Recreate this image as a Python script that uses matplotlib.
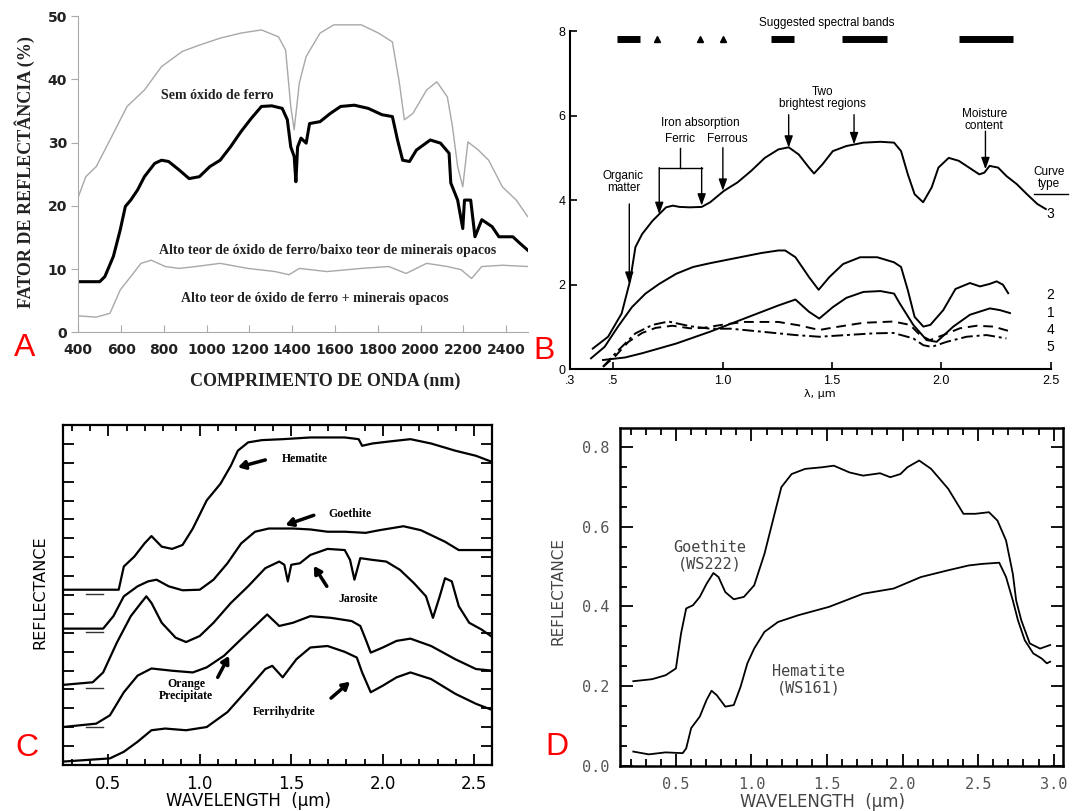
import numpy as np
import matplotlib
matplotlib.use('Agg')
import matplotlib.pyplot as plt
from matplotlib.ticker import MultipleLocator

# =============================================================================
# DATOS
# =============================================================================

# --- Painel A: fator de reflectância (%) vs comprimento de onda (nm)
a_wl_sem = [400, 435, 484, 548, 628, 709, 789, 886, 966, 1063, 1160, 1256, 1336, 1369, 1393,
            1409, 1433, 1465, 1530, 1594, 1723, 1803, 1868, 1900, 1924, 1964, 2028, 2076,
            2125, 2149, 2173, 2197, 2221, 2270, 2318, 2382, 2447, 2500]
a_sem = [21.4, 24.6, 26.2, 30.4, 35.7, 38.3, 42.0, 44.4, 45.4, 46.5, 47.3, 47.8, 46.7, 44.6, 35.7,
         32.0, 39.4, 43.6, 47.3, 48.6, 48.6, 47.3, 45.9, 39.6, 33.6, 34.6, 38.3, 39.6,
         37.2, 32.5, 26.2, 23.0, 30.1, 28.8, 27.2, 23.0, 20.9, 18.3]

a_wl_baixo = [400, 500, 524, 564, 596, 620, 645, 677, 709, 757, 789, 822, 870, 918, 966, 1015,
              1063, 1111, 1160, 1208, 1256, 1304, 1353, 1377, 1393, 1409, 1417, 1425, 1441,
              1465, 1481, 1530, 1578, 1626, 1690, 1755, 1819, 1868, 1892, 1916, 1948, 1980,
              2045, 2093, 2133, 2141, 2173, 2197, 2205, 2234, 2254, 2286, 2334, 2366, 2431,
              2463, 2500]
a_baixo = [8.0, 8.0, 8.8, 12.0, 16.2, 19.9, 20.9, 22.5, 24.6, 26.7, 27.2, 27.0, 25.7, 24.3, 24.6,
           26.2, 27.2, 29.3, 31.7, 33.8, 35.7, 35.8, 35.4, 33.6, 29.3, 27.8, 23.8, 29.3, 30.7,
           29.9, 33.0, 33.3, 34.6, 35.7, 35.9, 35.4, 34.4, 34.1, 30.4, 27.2, 27.0, 28.8,
           30.4, 29.9, 28.3, 23.6, 20.9, 16.4, 20.9, 20.9, 15.1, 17.8, 16.7, 15.1, 15.1,
           14.1, 13.0]

a_wl_opacos = [400, 484, 548, 596, 645, 693, 741, 806, 870, 950, 1063, 1192, 1320, 1385, 1433,
               1562, 1723, 1851, 1932, 2028, 2125, 2189, 2238, 2286, 2382, 2500]
a_opacos = [2.6, 2.4, 3.0, 6.7, 8.8, 10.9, 11.4, 10.4, 10.1, 10.4, 10.9, 10.1, 9.6, 9.1, 10.1,
            9.6, 10.1, 10.4, 9.3, 10.9, 10.4, 9.9, 8.5, 10.4, 10.6, 10.4]

# --- Painel B: curvas tipo 1..5 (um)
b3_x = [0.406, 0.476, 0.538, 0.577, 0.601, 0.632, 0.679, 0.710, 0.741, 0.772, 0.803, 0.850,
        0.904, 0.943, 1.006, 1.068, 1.130, 1.193, 1.255, 1.302, 1.348, 1.395, 1.418, 1.457,
        1.504, 1.566, 1.644, 1.722, 1.784, 1.816, 1.847, 1.878, 1.917, 1.956, 1.987, 2.034,
        2.080, 2.127, 2.174, 2.197, 2.221, 2.260, 2.298, 2.345, 2.392, 2.439, 2.478]
b3_y = [0.49, 0.77, 1.32, 2.10, 2.89, 3.20, 3.51, 3.67, 3.83, 3.87, 3.84, 3.83,
        3.84, 3.95, 4.22, 4.42, 4.69, 5.00, 5.20, 5.25, 5.08, 4.77, 4.63, 4.85,
        5.16, 5.28, 5.36, 5.38, 5.36, 5.16, 4.61, 4.14, 3.95, 4.30, 4.77, 5.00,
        4.93, 4.77, 4.61, 4.65, 4.81, 4.77, 4.57, 4.38, 4.14, 3.91, 3.79]

b2_x = [0.398, 0.46, 0.52, 0.585, 0.647, 0.71, 0.788, 0.865, 0.943, 1.021, 1.099, 1.177,
        1.255, 1.286, 1.333, 1.395, 1.439, 1.488, 1.551, 1.629, 1.707, 1.784, 1.816, 1.847,
        1.878, 1.918, 1.95, 2.009, 2.065, 2.131, 2.177, 2.222, 2.253, 2.282, 2.306]
b2_y = [0.26, 0.53, 1.00, 1.47, 1.79, 2.02, 2.26, 2.42, 2.51, 2.59, 2.67, 2.75,
        2.81, 2.81, 2.65, 2.18, 1.88, 2.18, 2.49, 2.65, 2.65, 2.53, 2.42, 1.87,
        1.24, 1.01, 1.05, 1.40, 1.90, 2.04, 1.96, 2.02, 2.08, 2.00, 1.80]

b1_x = [0.453, 0.554, 0.632, 0.788, 0.943, 1.099, 1.255, 1.333, 1.395, 1.442, 1.504, 1.566,
        1.644, 1.722, 1.784, 1.811, 1.872, 1.933, 1.979, 2.055, 2.131, 2.222, 2.268, 2.314]
b1_y = [0.22, 0.28, 0.38, 0.61, 0.89, 1.20, 1.51, 1.65, 1.36, 1.20, 1.47, 1.69,
        1.83, 1.85, 1.79, 1.55, 1.05, 0.69, 0.65, 1.01, 1.29, 1.44, 1.40, 1.33]

b4_x = [0.453, 0.507, 0.569, 0.632, 0.694, 0.77, 0.85, 0.912, 1.006, 1.099, 1.255, 1.348,
        1.442, 1.52, 1.644, 1.781, 1.857, 1.903, 1.948, 2.009, 2.085, 2.162, 2.238, 2.306]
b4_y = [0.06, 0.30, 0.65, 0.86, 0.98, 1.03, 0.97, 0.98, 1.06, 1.12, 1.12, 1.04,
        0.93, 1.00, 1.10, 1.13, 1.05, 0.81, 0.69, 0.81, 0.97, 1.03, 1.01, 0.91]

b5_x = [0.453, 0.523, 0.601, 0.679, 0.752, 0.85, 0.943, 1.037, 1.177, 1.333, 1.442, 1.566,
        1.691, 1.781, 1.872, 1.918, 1.956, 2.025, 2.116, 2.207, 2.298]
b5_y = [0.06, 0.45, 0.85, 1.05, 1.13, 1.02, 0.96, 0.96, 0.89, 0.81, 0.77, 0.81,
        0.85, 0.86, 0.73, 0.57, 0.53, 0.65, 0.77, 0.81, 0.73]

# bandas espectrais sugeridas
b_banda_ini = [0.515, 1.221, 1.548, 2.080]
b_banda_fim = [0.624, 1.325, 1.750, 2.330]
b_banda_pts = [0.702, 0.897, 1.001]

b_tipo_lbl = ['3', '2', '1', '4', '5']
b_tipo_y = [3.67, 1.75, 1.32, 0.93, 0.53]

# --- Painel C: espectros deslocados (unidades arbitrárias)
c_hem_x = [0.251, 0.557, 0.585, 0.642, 0.698, 0.736, 0.792, 0.849, 0.906, 0.962, 1.038, 1.113,
           1.17, 1.208, 1.264, 1.34, 1.453, 1.604, 1.792, 1.868, 1.887, 1.943, 2.038, 2.151,
           2.264, 2.396, 2.509, 2.604]
c_hem_y = [9.28, 9.28, 10.51, 11.03, 11.73, 12.12, 11.56, 11.44, 11.65, 12.52, 14.01, 14.89,
           15.85, 16.64, 17.08, 17.20, 17.25, 17.34, 17.34, 17.25, 16.90, 17.02, 17.13, 17.25,
           17.02, 16.64, 16.37, 16.02]

c_goe_x = [0.251, 0.472, 0.528, 0.585, 0.66, 0.717, 0.764, 0.83, 0.906, 1.0, 1.075, 1.151,
           1.226, 1.302, 1.377, 1.509, 1.604, 1.698, 1.792, 1.906, 1.981, 2.113, 2.208, 2.34,
           2.415, 2.604]
c_goe_y = [7.22, 7.22, 7.88, 8.93, 9.46, 9.72, 9.81, 9.46, 9.25, 9.28, 9.81, 10.68,
           11.73, 12.35, 12.52, 12.52, 12.47, 12.35, 12.35, 12.29, 12.43, 12.64, 12.43, 11.82,
           11.38, 11.38]

c_jar_x = [0.251, 0.415, 0.472, 0.547, 0.623, 0.679, 0.708, 0.736, 0.792, 0.868, 0.925, 1.0,
           1.075, 1.17, 1.264, 1.358, 1.434, 1.462, 1.481, 1.5, 1.547, 1.604, 1.698, 1.792,
           1.821, 1.845, 1.877, 1.943, 2.019, 2.094, 2.17, 2.236, 2.274, 2.311, 2.34, 2.377,
           2.415, 2.472, 2.538, 2.604]
c_jar_y = [4.24, 4.38, 4.90, 6.48, 7.88, 8.58, 8.93, 8.58, 7.53, 6.74, 6.51, 6.83,
           7.53, 8.58, 9.46, 10.42, 10.77, 10.60, 9.72, 10.60, 10.68, 11.12, 11.44, 11.38,
           10.86, 9.81, 10.95, 10.86, 10.77, 10.33, 9.63, 8.93, 7.79, 8.93, 9.89, 9.72,
           8.41, 7.53, 7.18, 6.74]

c_ora_x = [0.251, 0.434, 0.509, 0.585, 0.66, 0.736, 0.849, 0.962, 1.038, 1.132, 1.226, 1.302,
           1.368, 1.406, 1.434, 1.509, 1.604, 1.717, 1.83, 1.877, 1.906, 1.934, 2.0, 2.075,
           2.151, 2.264, 2.396, 2.509, 2.604]
c_ora_y = [2.01, 2.19, 2.63, 3.85, 4.73, 5.11, 4.99, 4.90, 5.17, 5.78, 6.66, 7.36,
           7.97, 7.62, 7.36, 7.53, 7.88, 7.79, 7.62, 7.36, 6.66, 5.95, 6.22, 6.57,
           6.69, 6.30, 5.60, 5.08, 4.99]

c_fer_x = [0.251, 0.509, 0.585, 0.66, 0.736, 0.811, 0.925, 1.038, 1.151, 1.264, 1.358, 1.396,
           1.453, 1.528, 1.604, 1.698, 1.792, 1.858, 1.887, 1.934, 2.0, 2.075, 2.151, 2.264,
           2.396, 2.509, 2.604]
c_fer_y = [0.18, 0.35, 0.70, 1.23, 1.84, 1.93, 1.84, 2.01, 2.80, 4.03, 5.08, 5.25,
           4.64, 5.60, 6.22, 6.30, 5.99, 5.69, 4.90, 3.85, 4.20, 4.64, 4.90, 4.55,
           3.77, 3.24, 2.89]

# marcas de zero de cada curva deslocada
c_zero_y = [9.05, 7.06, 4.06, 2.01]

# --- Painel D: reflectância de goethita e hematita
d_goe_x = [0.218, 0.342, 0.432, 0.5, 0.534, 0.568, 0.613, 0.658, 0.703, 0.748, 0.782, 0.827,
           0.883, 0.95, 1.018, 1.086, 1.153, 1.198, 1.266, 1.356, 1.468, 1.545, 1.649, 1.739,
           1.851, 1.919, 1.986, 2.032, 2.11, 2.189, 2.302, 2.403, 2.482, 2.572, 2.628, 2.685,
           2.73, 2.752, 2.786, 2.842, 2.91, 2.977]
d_goe_y = [0.212, 0.217, 0.227, 0.244, 0.332, 0.395, 0.403, 0.424, 0.457, 0.484, 0.474, 0.436,
           0.418, 0.424, 0.453, 0.532, 0.633, 0.700, 0.733, 0.746, 0.750, 0.754, 0.737, 0.729,
           0.735, 0.725, 0.733, 0.750, 0.767, 0.746, 0.696, 0.633, 0.633, 0.637, 0.616, 0.566,
           0.482, 0.415, 0.365, 0.307, 0.294, 0.303]

d_hem_x = [0.218, 0.32, 0.432, 0.545, 0.568, 0.601, 0.658, 0.703, 0.736, 0.77, 0.827, 0.883,
           0.928, 0.973, 1.018, 1.086, 1.176, 1.311, 1.514, 1.739, 1.941, 2.122, 2.302, 2.437,
           2.527, 2.64, 2.685, 2.73, 2.764, 2.809, 2.865, 2.921, 2.955, 2.977]
d_hem_y = [0.035, 0.028, 0.033, 0.031, 0.043, 0.094, 0.123, 0.165, 0.188, 0.177, 0.148, 0.152,
           0.198, 0.257, 0.294, 0.336, 0.361, 0.378, 0.399, 0.432, 0.445, 0.474, 0.491, 0.503,
           0.507, 0.510, 0.474, 0.415, 0.365, 0.315, 0.282, 0.269, 0.257, 0.261]

# =============================================================================
# FIGURA
# =============================================================================
W, H = 1074, 811
fig = plt.figure(figsize=(W / 100, H / 100), dpi=100)
fig.patch.set_facecolor('white')

SERIF = 'Liberation Serif'
SANS = 'Liberation Sans'


def caja(x0, y0, x1, y1):
    """rectángulo en píxeles (arriba-izquierda, abajo-derecha) -> coords de figura"""
    return [x0 / W, 1 - y1 / H, (x1 - x0) / W, (y1 - y0) / H]


def ftext(px, py, s, **kw):
    fig.text(px / W, 1 - py / H, s, ha='center', va='center', **kw)


def flecha(ax, tip, tail, lw=1.0, ms=10, hw=0.25, hl=0.7):
    ax.annotate('', xy=tip, xytext=tail,
                arrowprops=dict(arrowstyle=f'-|>,head_length={hl},head_width={hw}',
                                color='black', lw=lw, shrinkA=0, shrinkB=0,
                                mutation_scale=ms))


# ---------------------------------------------------------------- Painel A
axA = fig.add_axes(caja(78.3, 16, 527.6, 332.3))
axA.plot(a_wl_sem, a_sem, color='#a8a8a8', lw=1.0)
axA.plot(a_wl_opacos, a_opacos, color='#a8a8a8', lw=1.0)
axA.plot(a_wl_baixo, a_baixo, color='black', lw=2.2)
axA.set_xlim(400, 2500)
axA.set_ylim(0, 50)
for s in ['top', 'right']:
    axA.spines[s].set_visible(False)
for s in ['left', 'bottom']:
    axA.spines[s].set_color('#aaaaaa')
axA.set_xticks(range(400, 2401, 200))
axA.set_yticks(range(0, 51, 10))
axA.tick_params(axis='x', direction='in', length=5, color='#aaaaaa', pad=8,
                labelsize=10, labelcolor='#222222')
axA.tick_params(axis='y', direction='out', length=5, color='#aaaaaa', pad=3,
                labelsize=10, labelcolor='#222222')
for t in axA.get_xticklabels() + axA.get_yticklabels():
    t.set_fontweight('bold')

txtA = dict(family=SERIF, fontweight='bold', fontsize=10, color='#222222',
            ha='center', va='center')
axA.text(1048, 37.5, 'Sem óxido de ferro', **txtA)
axA.text(1563, 13.0, 'Alto teor de óxido de ferro/baixo teor de minerais opacos', **txtA)
axA.text(1506, 5.4, 'Alto teor de óxido de ferro + minerais opacos', **txtA)
ftext(25, 172, 'FATOR DE REFLECTÂNCIA (%)', rotation=90, family=SERIF,
      fontweight='bold', fontsize=13, color='#222222')
ftext(325, 381, 'COMPRIMENTO DE ONDA (nm)', family=SERIF, fontweight='bold',
      fontsize=13, color='#222222')

# ---------------------------------------------------------------- Painel B
axB = fig.add_axes(caja(569.6, 31, 1050.6, 369.3))
axB.plot(b3_x, b3_y, color='black', lw=1.4)
axB.plot(b2_x, b2_y, color='black', lw=1.4)
axB.plot(b1_x, b1_y, color='black', lw=1.4)
axB.plot(b4_x, b4_y, color='black', lw=1.4, ls=(0, (5, 3)))
axB.plot(b5_x, b5_y, color='black', lw=1.4, ls=(0, (6, 2, 1.5, 2)))
axB.set_xlim(0.3, 2.5)
axB.set_ylim(0, 8)
for s in ['top', 'right']:
    axB.spines[s].set_visible(False)
for s in ['left', 'bottom']:
    axB.spines[s].set_linewidth(1.5)
axB.set_xticks([0.3, 0.5, 1.0, 1.5, 2.0, 2.5])
axB.set_xticklabels(['.3', '.5', '1.0', '1.5', '2.0', '2.5'])
axB.set_yticks([0, 2, 4, 6, 8])
axB.tick_params(direction='in', length=5, width=1.2, labelsize=9)
axB.tick_params(axis='x', pad=4)
axB.tick_params(axis='y', pad=3)
for t in axB.get_xticklabels() + axB.get_yticklabels():
    t.set_family(SANS)
ftext(820, 394, 'λ, µm', fontsize=8, family='DejaVu Sans')

# bandas sugeridas
for ini, fim in zip(b_banda_ini, b_banda_fim):
    axB.plot([ini, fim], [7.8, 7.8], color='black', lw=5, solid_capstyle='butt')
axB.plot(b_banda_pts, [7.8] * len(b_banda_pts), ls='none', marker='^', ms=4, color='black')
axB.text(1.477, 8.19, 'Suggested spectral bands', ha='center', va='center',
         fontsize=8.5, family=SANS, clip_on=False)

txtB = dict(ha='center', va='center', fontsize=8.5, family=SANS, linespacing=1.0)
axB.text(0.546, 4.42, 'Organic\nmatter', **txtB)
flecha(axB, (0.573, 2.02), (0.573, 3.91))
axB.text(0.897, 5.83, 'Iron absorption', **txtB)
axB.text(0.803, 5.44, 'Ferric', **txtB)
axB.text(1.02, 5.44, 'Ferrous', **txtB)
axB.plot([0.803, 0.803], [5.24, 4.77], color='black', lw=1.0)
axB.plot([0.71, 0.904], [4.77, 4.77], color='black', lw=1.0)
flecha(axB, (0.71, 3.67), (0.71, 4.77))
flecha(axB, (0.904, 3.87), (0.904, 4.77))
flecha(axB, (1.001, 4.22), (1.001, 5.24))
axB.text(1.457, 6.42, 'Two\nbrightest regions', **txtB)
flecha(axB, (1.302, 5.24), (1.302, 6.02))
flecha(axB, (1.601, 5.32), (1.601, 6.02))
axB.text(2.197, 5.9, 'Moisture\ncontent', **txtB)
flecha(axB, (2.202, 4.73), (2.202, 5.63))

axB.text(2.493, 4.53, 'Curve\ntype', clip_on=False, **txtB)
axB.plot([2.423, 2.579], [4.14, 4.14], color='black', lw=1.0, clip_on=False)
for lbl, yy in zip(b_tipo_lbl, b_tipo_y):
    axB.text(2.5, yy, lbl, ha='center', va='center', fontsize=10, family=SANS)

# ---------------------------------------------------------------- Painel C
axC = fig.add_axes(caja(62.7, 425, 491.7, 765))
for xs, ys in [(c_hem_x, c_hem_y), (c_goe_x, c_goe_y), (c_jar_x, c_jar_y),
               (c_ora_x, c_ora_y), (c_fer_x, c_fer_y)]:
    axC.plot(xs, ys, color='black', lw=1.6)
for yy in c_zero_y:
    axC.plot([0.378, 0.472], [yy, yy], color='#333333', lw=1.0)
axC.set_xlim(0.251, 2.595)
axC.set_ylim(0, 18)
axC.set_xticks([0.5, 1.0, 1.5, 2.0, 2.5])
axC.set_xticklabels(['0.5', '1.0', '1.5', '2.0', '2.5'])
axC.xaxis.set_minor_locator(MultipleLocator(0.1))
axC.set_yticks(range(1, 18))
axC.set_yticklabels([])
for s in axC.spines.values():
    s.set_linewidth(1.6)
axC.tick_params(which='both', direction='in', top=True, right=True, width=1.3)
axC.tick_params(which='major', length=8, labelsize=12, pad=7)
axC.tick_params(which='minor', length=4)
ftext(39.6, 592.5, 'REFLECTANCE', rotation=90, fontsize=11.5)
ftext(248.5, 801, 'WAVELENGTH  (µm)', fontsize=12)

txtC = dict(family=SERIF, fontweight='bold', fontsize=8.5, ha='center', va='center')
axC.text(1.575, 16.2, 'Hematite', **txtC)
axC.text(1.821, 13.31, 'Goethite', **txtC)
axC.text(1.868, 8.79, 'Jarosite', **txtC)
axC.text(0.925, 3.98, 'Orange\nPrecipitate', linespacing=1.0, **txtC)
axC.text(1.462, 2.80, 'Ferrihydrite', **txtC)
for tip, tail in [((1.208, 15.76), (1.358, 16.15)),
                  ((1.468, 12.70), (1.623, 13.22)),
                  ((1.623, 10.54), (1.694, 9.46)),
                  ((1.160, 5.78), (1.098, 4.64)),
                  ((1.821, 4.41), (1.717, 3.54))]:
    flecha(axC, tip, tail, lw=2.5, ms=7, hw=0.35, hl=0.6)

# ---------------------------------------------------------------- Painel D
axD = fig.add_axes(caja(620, 428.3, 1062.7, 765.5))
axD.plot(d_goe_x, d_goe_y, color='black', lw=1.3)
axD.plot(d_hem_x, d_hem_y, color='black', lw=1.3)
axD.set_xlim(0.13, 3.06)
axD.set_ylim(0, 0.848)
axD.set_xticks([0.5, 1.0, 1.5, 2.0, 2.5, 3.0])
axD.set_xticklabels(['0.5', '1.0', '1.5', '2.0', '2.5', '3.0'])
axD.xaxis.set_minor_locator(MultipleLocator(0.1))
axD.set_yticks([0.0, 0.2, 0.4, 0.6, 0.8])
axD.set_yticklabels(['0.0', '0.2', '0.4', '0.6', '0.8'])
axD.yaxis.set_minor_locator(MultipleLocator(0.05))
for s in axD.spines.values():
    s.set_linewidth(1.8)
axD.tick_params(which='both', direction='in', top=True, right=True, width=1.3,
                labelcolor='#555555')
axD.tick_params(which='major', length=9, labelsize=11, pad=8)
axD.tick_params(which='minor', length=5)
for t in axD.get_xticklabels() + axD.get_yticklabels():
    t.set_family('DejaVu Sans Mono')
ftext(558, 591, 'REFLECTANCE', rotation=90, fontsize=11, color='#444444')
ftext(822, 802, 'WAVELENGTH  (µm)', fontsize=12, color='#444444')

txtD = dict(family='DejaVu Sans Mono', fontsize=11, color='#444444',
            ha='center', va='center', linespacing=1.1)
axD.text(0.725, 0.528, 'Goethite\n(WS222)', **txtD)
axD.text(1.378, 0.215, 'Hematite\n(WS161)', **txtD)

# ---------------------------------------------------------------- letras
for letra, px, py in [('A', 25, 348), ('B', 544, 351), ('C', 27, 748), ('D', 557, 747)]:
    ftext(px, py, letra, color='#ff0000', fontsize=23, family=SANS)

fig.savefig('out.png', dpi=100)
